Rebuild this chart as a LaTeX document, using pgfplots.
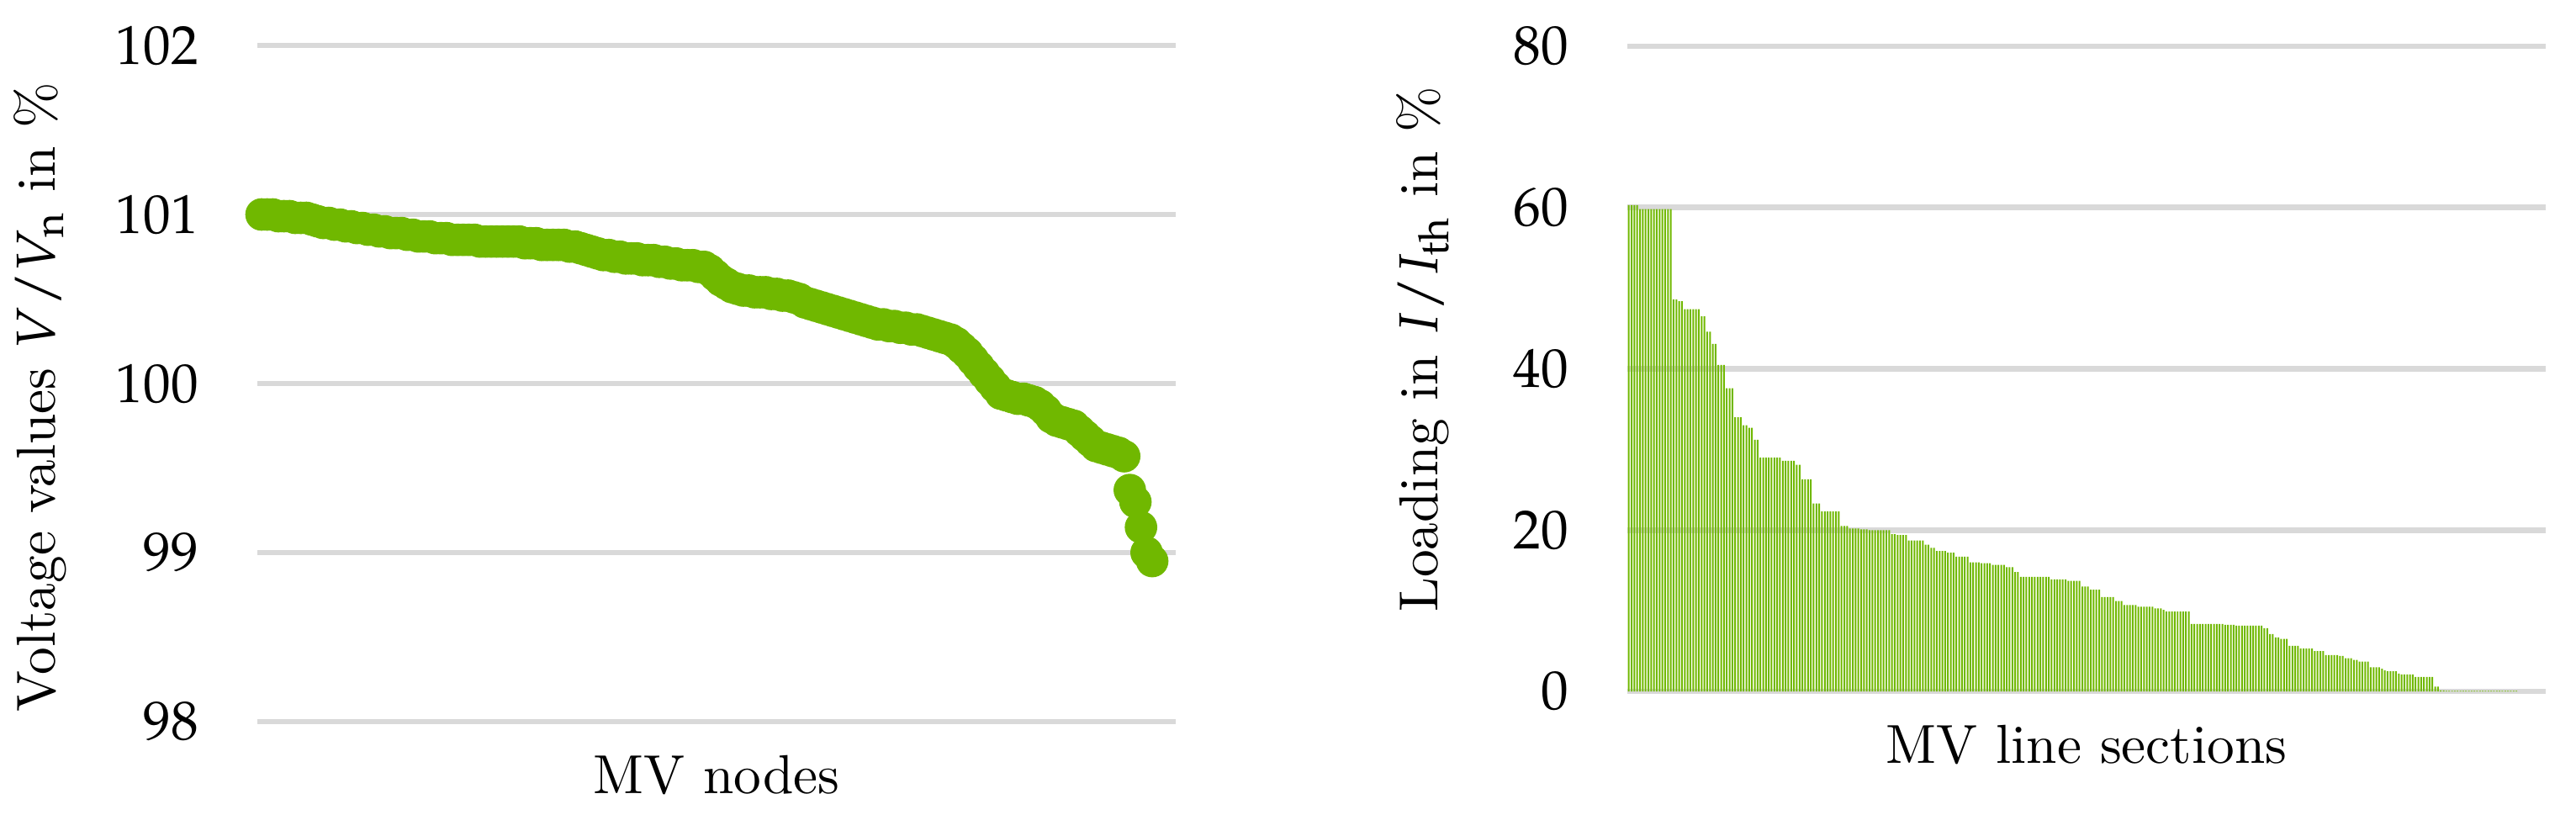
\documentclass[border=0pt]{standalone}
\usepackage{mathpazo}
\usepackage{pgfplots}
\usepackage{pgfplotstable}
\pgfplotsset{compat=1.18}
\definecolor{mvgreen}{HTML}{70B800}
\definecolor{gridgray}{HTML}{D9D9D9}

% node voltages, sorted (one value per MV node)
\pgfplotstableread[row sep=\\]{
v\\
101.00\\101.00\\101.00\\100.99\\100.99\\100.99\\100.98\\100.98\\100.98\\100.97\\
100.96\\100.95\\100.95\\100.94\\100.94\\100.93\\100.93\\100.92\\100.92\\100.91\\
100.91\\100.90\\100.90\\100.89\\100.89\\100.89\\100.88\\100.88\\100.87\\100.87\\
100.87\\100.86\\100.86\\100.86\\100.85\\100.85\\100.85\\100.85\\100.85\\100.84\\
100.84\\100.84\\100.84\\100.84\\100.84\\100.84\\100.84\\100.83\\100.83\\100.83\\
100.82\\100.82\\100.82\\100.82\\100.82\\100.81\\100.81\\100.80\\100.79\\100.78\\
100.77\\100.76\\100.76\\100.75\\100.75\\100.74\\100.74\\100.74\\100.73\\100.73\\
100.73\\100.72\\100.72\\100.71\\100.71\\100.70\\100.70\\100.70\\100.69\\100.69\\
100.67\\100.64\\100.61\\100.59\\100.57\\100.56\\100.55\\100.55\\100.54\\100.54\\
100.54\\100.53\\100.53\\100.52\\100.52\\100.51\\100.50\\100.48\\100.47\\100.46\\
100.45\\100.44\\100.43\\100.42\\100.41\\100.40\\100.39\\100.38\\100.37\\100.36\\
100.35\\100.35\\100.34\\100.34\\100.33\\100.33\\100.32\\100.32\\100.31\\100.30\\
100.29\\100.28\\100.27\\100.26\\100.24\\100.21\\100.18\\100.14\\100.10\\100.06\\
100.02\\99.98\\99.94\\99.93\\99.92\\99.91\\99.91\\99.90\\99.89\\99.87\\
99.84\\99.80\\99.78\\99.77\\99.76\\99.75\\99.72\\99.69\\99.66\\99.63\\
99.62\\99.61\\99.60\\99.59\\99.57\\99.37\\99.30\\99.15\\99.00\\98.95\\
}\voltage

% line loadings, sorted (one value per MV line section)
\pgfplotstableread[row sep=\\]{
v\\
60.3\\60.3\\60.3\\60.3\\
59.8\\59.8\\59.8\\59.8\\59.8\\59.8\\59.8\\59.8\\59.8\\59.8\\59.8\\59.8\\
48.6\\48.6\\48.4\\48.4\\
47.4\\47.4\\47.4\\47.4\\47.4\\47.4\\
46.5\\46.5\\44.6\\44.6\\43.1\\43.1\\
40.5\\40.5\\40.5\\37.6\\37.6\\37.6\\34.0\\34.0\\34.0\\
33.0\\33.0\\32.7\\32.7\\31.2\\31.2\\
29.0\\29.0\\29.0\\29.0\\29.0\\29.0\\29.0\\29.0\\
28.6\\28.6\\28.6\\28.6\\28.6\\
28.1\\28.1\\26.3\\26.3\\26.3\\26.3\\
23.3\\23.3\\23.3\\
22.3\\22.3\\22.3\\22.3\\22.3\\22.3\\22.3\\
20.5\\20.5\\20.5\\20.2\\20.2\\20.2\\20.2\\20.1\\20.1\\20.1\\
20.0\\20.0\\20.0\\20.0\\20.0\\20.0\\20.0\\20.0\\
19.5\\19.5\\19.4\\19.4\\19.4\\19.4\\
18.7\\18.7\\18.7\\18.7\\18.7\\18.7\\
18.2\\18.2\\17.8\\17.8\\17.4\\17.4\\17.4\\17.4\\
17.2\\17.2\\17.2\\16.7\\16.7\\16.7\\16.7\\16.7\\
16.0\\16.0\\16.0\\16.0\\15.9\\15.9\\15.9\\15.9\\
15.7\\15.7\\15.7\\15.7\\15.7\\15.4\\15.4\\15.4\\14.8\\14.8\\
14.2\\14.2\\14.2\\14.2\\14.2\\14.2\\14.2\\14.2\\14.2\\14.2\\14.2\\
13.9\\13.9\\13.9\\13.9\\13.9\\13.9\\
13.7\\13.7\\13.7\\13.7\\13.7\\13.0\\13.0\\13.0\\
12.6\\12.6\\12.6\\12.6\\
11.7\\11.7\\11.7\\11.7\\11.7\\11.2\\11.2\\11.2\\
10.7\\10.7\\10.7\\10.7\\10.7\\
10.5\\10.5\\10.5\\10.5\\10.5\\10.5\\10.3\\10.3\\10.3\\10.1\\
9.9\\9.9\\9.9\\9.9\\9.9\\9.9\\9.9\\9.9\\9.9\\
8.35\\8.35\\8.35\\8.35\\8.35\\8.35\\8.35\\8.35\\8.35\\8.35\\8.35\\8.35\\
8.26\\8.26\\8.26\\8.26\\
8.14\\8.14\\8.14\\8.14\\8.14\\8.14\\8.14\\8.14\\8.14\\8.14\\
7.85\\7.85\\7.1\\7.1\\6.7\\6.7\\6.5\\6.5\\6.5\\
5.65\\5.65\\5.65\\5.65\\5.3\\5.3\\5.3\\5.3\\5.3\\
5.0\\5.0\\5.0\\5.0\\4.5\\4.5\\4.5\\4.5\\4.5\\4.4\\4.4\\
4.1\\4.1\\4.1\\3.9\\3.9\\3.7\\3.7\\3.7\\3.7\\
3.0\\3.0\\3.0\\3.0\\2.8\\2.6\\2.5\\2.5\\2.5\\2.5\\2.2\\
2.1\\2.1\\2.1\\2.1\\2.1\\
1.8\\1.8\\1.8\\1.8\\1.8\\1.8\\1.8\\
0.6\\0.6\\0.12\\0.12\\
0.08\\0.08\\0.08\\0.08\\0.08\\0.08\\0.08\\0.08\\0.08\\0.08\\0.08\\0.08\\0.08\\
0.08\\0.08\\0.08\\0.08\\0.08\\0.08\\0.08\\0.08\\0.08\\0.08\\0.08\\0.08\\0.08\\
}\loading

\pgfplotsset{
  mvstyle/.style={
    scale only axis,
    enlargelimits=false,
    xtick=\empty,
    axis line style={draw=none},
    major tick length=0pt,
    ymajorgrids,
    grid style={gridgray,line width=1pt},
    tick label style={font=\fontsize{9.8}{12}\selectfont},
    label style={font=\fontsize{9.8}{12}\selectfont},
    yticklabel style={xshift=-7pt},
    xlabel shift=2.5pt,
  }
}

\begin{document}
\begin{tikzpicture}
\useasboundingbox (0,0) rectangle (459.45pt,145.2pt);

\begin{axis}[mvstyle,
  at={(45.9pt,16.5pt)}, anchor=south west,
  width=163.8pt, height=120.6pt,
  xmin=0.25, xmax=164.2, ymin=98, ymax=102,
  ytick={98,99,100,101,102},
  clip=false,
  xlabel={MV nodes},
  ylabel={Voltage values $V/V_{\mathrm{n}}$ in \%},
  ylabel style={at={(ticklabel cs:0.48)}},
  ylabel shift=2pt,
]
\addplot[only marks, mark=*, mark size=2.7pt,
  mark options={fill=mvgreen,draw=mvgreen}]
  table[x expr=\coordindex+1, y=v] {\voltage};
\end{axis}

\begin{axis}[mvstyle,
  at={(290.25pt,21.9pt)}, anchor=south west,
  width=163.8pt, height=115.05pt,
  xmin=0.5, xmax=328.5, ymin=0, ymax=80,
  ytick={0,20,40,60,80},
  xlabel={MV line sections},
  ylabel={Loading in $I/I_{\mathrm{th}}$ in \%},
  ylabel style={at={(ticklabel cs:0.53)}},
  ylabel shift=4.5pt,
]
\addplot[ybar, bar width=0.6, fill=mvgreen, draw=none]
  table[x expr=\coordindex+1, y=v] {\loading};
\end{axis}
\end{tikzpicture}
\end{document}
